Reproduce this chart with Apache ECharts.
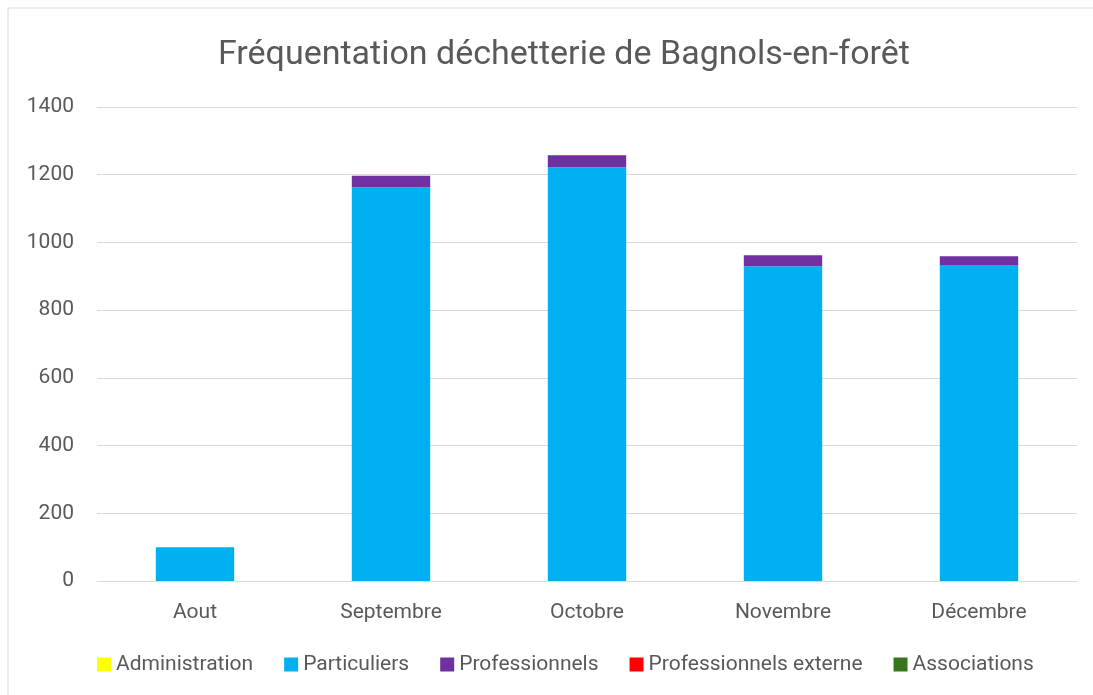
<!DOCTYPE html>
<head>
    <meta charset="utf-8">
    <title>ECharts</title>
    <style>
    html,body { height:100%; width:100%; margin:0; background:white; padding:0; }
    #main { width:1093px; height:695px; }
    </style>
</head>
<body>
    <div id="main"></div>
    <script src="https://cdn.jsdelivr.net/npm/echarts@6/dist/echarts.min.js"></script>
    <script type="text/javascript">
    // donnees
    var mois = ['Aout', 'Septembre', 'Octobre', 'Novembre', 'Décembre'];
    var administration = [0, 0, 0, 0, 0];
    var particuliers = [100, 1163, 1222, 930, 933];
    var professionnels = [0, 34, 34, 32, 26];
    var proExterne = [0, 0, 0, 0, 0];
    var associations = [0, 0, 2, 0, 0];

    var couleurs = ['#FFFF00', '#00B0F0', '#7030A0', '#FF0000', '#38761D'];
    var noms = ['Administration', 'Particuliers', 'Professionnels', 'Professionnels externe', 'Associations'];
    var valeurs = [administration, particuliers, professionnels, proExterne, associations];

    var myChart = echarts.init(document.getElementById('main'));

    var series = [];
    for (var i = 0; i < noms.length; i++) {
        series.push({
            name: noms[i],
            type: 'bar',
            stack: 'total',
            barWidth: '40%',
            itemStyle: { color: couleurs[i] },
            data: valeurs[i]
        });
    }

    var option = {
        backgroundColor: '#fff',
        textStyle: { fontFamily: 'Roboto' },
        title: {
            text: 'Fréquentation déchetterie de Bagnols-en-forêt',
            left: 213,
            top: 33,
            textStyle: { fontSize: 34, fontWeight: 'normal', color: '#595959', fontFamily: 'Roboto' }
        },
        legend: {
            bottom: 15,
            left: 92,
            itemWidth: 14,
            itemHeight: 14,
            itemGap: 31,
            icon: 'rect',
            textStyle: { fontSize: 21, color: '#595959', fontFamily: 'Roboto' },
            data: noms
        },
        grid: { left: 97, right: 16, top: 107, bottom: 114 },
        xAxis: {
            type: 'category',
            data: mois,
            axisTick: { show: false },
            axisLine: { lineStyle: { color: '#d9d9d9', width: 1 } },
            axisLabel: { fontSize: 21, color: '#595959', margin: 21 }
        },
        yAxis: {
            type: 'value',
            min: 0,
            max: 1400,
            interval: 200,
            axisLabel: { fontSize: 21, color: '#595959', margin: 23, formatter: function (v) { return String(v); } },
            splitLine: { lineStyle: { color: '#d9d9d9', width: 1 } }
        },
        graphic: [{
            type: 'rect',
            shape: { x: 8, y: 8, width: 1200, height: 800 },
            style: { fill: 'none', stroke: '#d9d9d9', lineWidth: 1 },
            silent: true
        }],
        series: series
    };

    myChart.setOption(option, true);
    </script>
</body>
